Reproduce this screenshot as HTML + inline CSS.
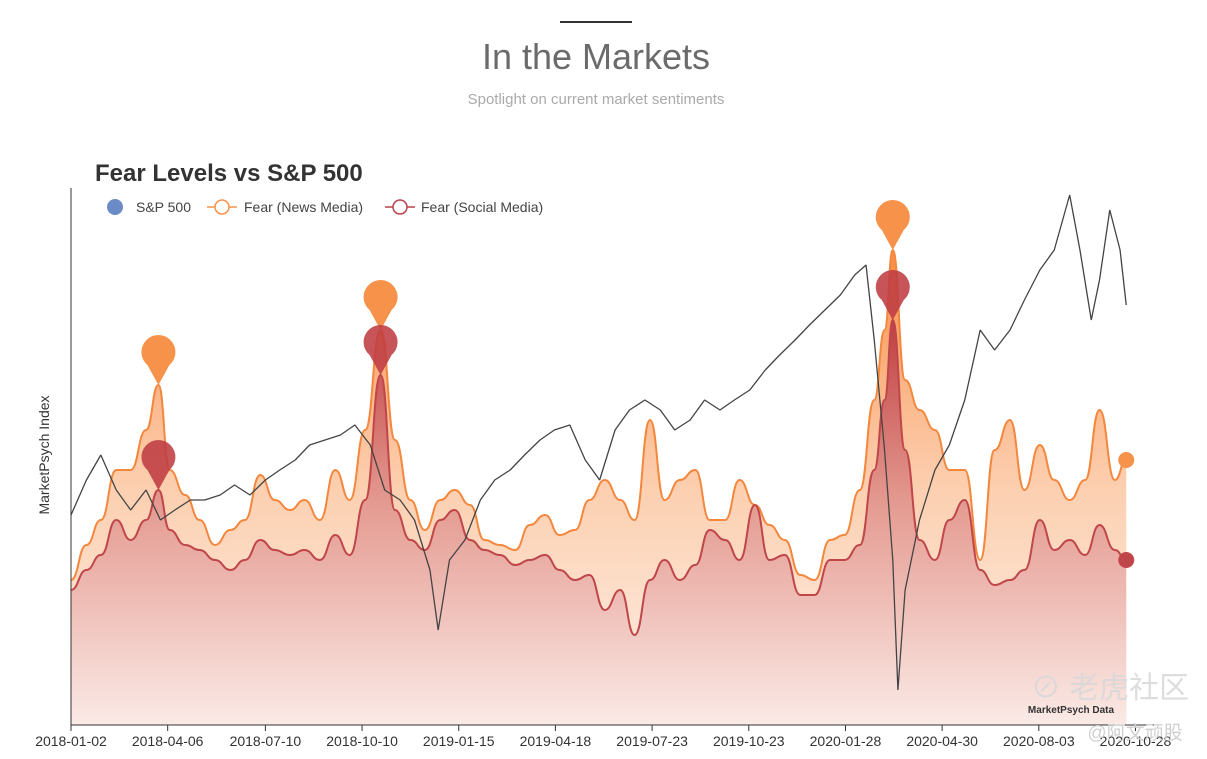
<!DOCTYPE html>
<html><head><meta charset="utf-8"><style>
html,body{margin:0;padding:0;background:#fff;width:1207px;height:759px;overflow:hidden;font-family:"Liberation Sans","Noto Sans CJK SC",sans-serif}
</style></head><body>
<svg id="chart" width="1207" height="759" xmlns="http://www.w3.org/2000/svg">
<defs>
<linearGradient id="gNews" gradientUnits="userSpaceOnUse" x1="0" y1="250" x2="0" y2="725">
<stop offset="0" stop-color="#f7863c" stop-opacity="0.95"/><stop offset="0.5" stop-color="#fbbf95" stop-opacity="0.75"/><stop offset="1" stop-color="#fde3d3" stop-opacity="0.6"/></linearGradient>
<linearGradient id="gSoc" gradientUnits="userSpaceOnUse" x1="0" y1="320" x2="0" y2="725">
<stop offset="0" stop-color="#c03f42"/><stop offset="0.45" stop-color="#e49a90"/><stop offset="1" stop-color="#fbeae6"/></linearGradient>
</defs>
<line x1="560" y1="22" x2="632" y2="22" stroke="#333" stroke-width="2"/>
<text x="596" y="69" text-anchor="middle" font-size="36" fill="#6b6b6b" font-weight="300">In the Markets</text>
<text x="596" y="104" text-anchor="middle" font-size="15" fill="#aaa">Spotlight on current market sentiments</text>
<text x="95" y="181" font-size="24" font-weight="bold" fill="#333">Fear Levels vs S&amp;P 500</text>
<g>
<g><circle cx="115" cy="207" r="8" fill="#6a8bc6"/><text x="136" y="212" font-size="14" fill="#444">S&amp;P 500</text></g>
<g><line x1="207" y1="207" x2="237" y2="207" stroke="#f7924a" stroke-width="1.5"/><circle cx="222" cy="207" r="7" fill="#fff" stroke="#f7924a" stroke-width="1.5"/><text x="244" y="212" font-size="14" fill="#444">Fear (News Media)</text></g>
<g><line x1="385" y1="207" x2="415" y2="207" stroke="#b9414a" stroke-width="1.5"/><circle cx="400" cy="207" r="7" fill="#fff" stroke="#b9414a" stroke-width="1.5"/><text x="421" y="212" font-size="14" fill="#444">Fear (Social Media)</text></g>
</g>
<text transform="translate(49,455) rotate(-90)" text-anchor="middle" font-size="14" fill="#333">MarketPsych Index</text>
<g id="plot"></g>
<line x1="71" y1="188" x2="71" y2="725" stroke="#333"/>
<line x1="71" y1="725" x2="1160" y2="725" stroke="#333"/>
<g id="xticks"></g>
<text x="1110" y="698" text-anchor="middle" font-size="30" fill="#d8d8d8" opacity="0.85">⊘ 老虎社区</text>
<text x="1071" y="713" text-anchor="middle" font-size="10" font-weight="bold" fill="#333">MarketPsych Data</text>
<text x="1135" y="739" text-anchor="middle" font-size="19" fill="#d0d0d0">@阿文顽股</text>
</svg>
<script>
const fearDays=[0,15,29,44,58,73,85,96,111,125,140,155,169,184,198,213,227,242,257,271,286,301,315,330,344,359,373,388,402,417,432,446,461,475,490,504,519,534,548,563,577,592,607,621,636,650,665,679,694,709,723,738,752,767,781,791,799,811,825,840,854,869,884,898,913,927,942,956,971,986,1000,1015,1026];
const newsFear=[29,36,41,51,51,59,68,51,46,41,36,39,41,50,45,43,45,41,51,45,59,79,57,45,39,45,47,44,37,36,35,40,42,38,39,45,49,45,41,61,45,49,51,41,41,49,44,40,37,30,29,37,38,47,65,79,95,69,63,59,51,51,33,55,61,47,56,49,45,49,63,49,53];
const socialFear=[27,31,34,41,37,41,47,39,36,35,33,31,33,37,35,34,35,33,38,34,45,70,43,37,35,41,43,37,35,34,32,33,34,31,29,30,23,27,18,29,33,29,32,39,37,33,44,33,34,26,26,33,33,36,51,65,81,55,37,33,41,45,31,28,29,31,41,35,37,34,40,35,33];
const spDays=[0,15,29,44,58,73,87,101,116,130,145,159,174,189,203,218,232,247,262,276,291,305,320,334,349,357,368,383,398,412,427,441,456,470,485,500,514,529,543,558,573,587,602,616,631,645,660,675,689,704,718,733,748,762,773,781,791,799,804,811,825,840,854,869,884,898,913,927,942,956,971,981,992,1000,1010,1020,1026];
const spPrice=[2730,2835,2910,2805,2745,2805,2715,2745,2775,2775,2790,2820,2790,2835,2865,2895,2940,2955,2970,3000,2940,2805,2775,2715,2565,2385,2595,2655,2775,2835,2865,2910,2955,2985,3000,2895,2835,2985,3045,3075,3045,2985,3015,3075,3045,3075,3105,3165,3210,3255,3300,3345,3390,3450,3480,3255,2925,2595,2205,2505,2715,2865,2940,3075,3285,3225,3285,3375,3465,3525,3690,3525,3315,3435,3645,3525,3360];
const tickLabels=["2018-01-02","2018-04-06","2018-07-10","2018-10-10","2019-01-15","2019-04-18","2019-07-23","2019-10-23","2020-01-28","2020-04-30","2020-08-03","2020-10-28"];
const tickDays=[0,94,189,283,377,471,565,659,753,847,941,1035];

const NS="http://www.w3.org/2000/svg";
const xS=d=>71+d*1.0285;
const yF=v=>725-v*5;
const yP=p=>725-(p-2100)/3;
const plot=document.getElementById('plot');
function mk(tag,attrs,parent){const e=document.createElementNS(NS,tag);for(const k in attrs)e.setAttribute(k,attrs[k]);(parent||plot).appendChild(e);return e;}
function smoothPath(xs,ys){let d="M"+xs[0]+","+ys[0];for(let i=1;i<xs.length;i++){const xm=(xs[i-1]+xs[i])/2;d+=" C"+xm+","+ys[i-1]+" "+xm+","+ys[i]+" "+xs[i]+","+ys[i];}return d;}
const fx=fearDays.map(xS);
const nY=newsFear.map(yF), sY=socialFear.map(yF);
const last=fx.length-1;
let e;
e=mk('path',{d:smoothPath(fx,nY)+" L"+fx[last]+",725 L"+fx[0]+",725 Z",fill:"url(#gNews)"});


e=mk('path',{d:smoothPath(fx,sY)+" L"+fx[last]+",725 L"+fx[0]+",725 Z",fill:"url(#gSoc)"});


e=mk('path',{d:smoothPath(fx,nY),fill:"none",stroke:"#f4873e","stroke-width":2});


e=mk('path',{d:smoothPath(fx,sY),fill:"none",stroke:"#c0464a","stroke-width":2});


const spPts=spDays.map((d,i)=>xS(d)+","+yP(spPrice[i])).join(" ");
e=mk('polyline',{points:spPts,fill:"none",stroke:"#444","stroke-width":1.3,"stroke-linejoin":"bevel"});


// pins at local maxima
function pins(vals,ys,thr,color,name){for(let i=1;i<vals.length-1;i++){if(vals[i]>=thr&&vals[i]>=vals[i-1]&&vals[i]>=vals[i+1]){const x=fx[i],y=ys[i],cy=y-33;
const p=mk('path',{d:`M${x},${y} L${x-11},${cy+13} A17,17 0 1 1 ${x+11},${cy+13} Z`,fill:color});

}}}
pins(newsFear,nY,66,"#f7924a","news-fear-peak-pin");
pins(socialFear,sY,46,"rgba(190,60,66,0.88)","social-fear-peak-pin");
e=mk('circle',{cx:fx[last],cy:nY[last],r:8,fill:"#f7924a"});


e=mk('circle',{cx:fx[last],cy:sY[last],r:8,fill:"#c0464a"});


const xt=document.getElementById('xticks');
tickDays.forEach((d,i)=>{const x=xS(d);
const l=mk('line',{x1:x,y1:725,x2:x,y2:731,stroke:"#333"},xt);


const t=mk('text',{x:x,y:746,"text-anchor":"middle","font-size":14,fill:"#333"},xt);
t.textContent=tickLabels[i];

});
</script>
</body></html>
